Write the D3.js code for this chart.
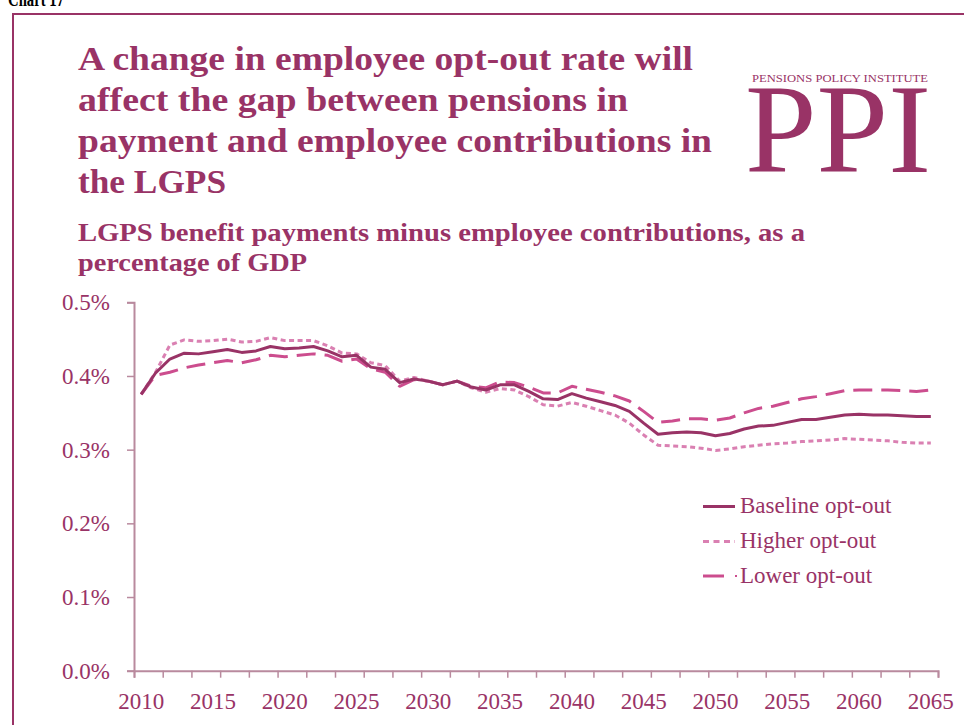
<!DOCTYPE html>
<html>
<head>
<meta charset="utf-8">
<script src="https://cdn.jsdelivr.net/npm/d3@7"></script>
<style>
  html, body { margin: 0; padding: 0; background: #fff; }
  svg { display: block; }
</style>
</head>
<body>
<svg id="chart" width="964" height="725"></svg>
<script>
// ---------- DATA ----------
const years = [2010,2011,2012,2013,2014,2015,2016,2017,2018,2019,
  2020,2021,2022,2023,2024,2025,2026,2027,2028,2029,
  2030,2031,2032,2033,2034,2035,2036,2037,2038,2039,
  2040,2041,2042,2043,2044,2045,2046,2047,2048,2049,
  2050,2051,2052,2053,2054,2055,2056,2057,2058,2059,
  2060,2061,2062,2063,2064,2065];

const baselineOptOut = [0.375,0.404,0.423,0.431,0.430,0.433,0.436,0.432,0.434,0.440,
  0.437,0.438,0.440,0.434,0.426,0.428,0.412,0.409,0.391,0.396,
  0.393,0.388,0.393,0.385,0.381,0.388,0.388,0.379,0.369,0.368,
  0.376,0.370,0.365,0.360,0.352,0.336,0.321,0.323,0.324,0.323,
  0.319,0.322,0.328,0.332,0.333,0.337,0.341,0.341,0.344,0.347,
  0.348,0.347,0.347,0.346,0.345,0.345];

const higherOptOut = [0.375,0.405,0.442,0.449,0.447,0.448,0.450,0.446,0.447,0.452,
  0.448,0.448,0.448,0.441,0.431,0.430,0.418,0.414,0.393,0.398,
  0.393,0.388,0.393,0.384,0.378,0.383,0.381,0.372,0.361,0.359,
  0.364,0.359,0.353,0.347,0.336,0.320,0.306,0.305,0.304,0.302,
  0.299,0.301,0.304,0.306,0.308,0.309,0.311,0.312,0.313,0.315,
  0.314,0.313,0.312,0.310,0.309,0.309];

const lowerOptOut = [0.375,0.401,0.405,0.411,0.415,0.418,0.421,0.418,0.422,0.428,
  0.426,0.428,0.430,0.428,0.420,0.423,0.410,0.405,0.386,0.395,
  0.393,0.388,0.393,0.386,0.384,0.392,0.391,0.385,0.377,0.377,
  0.386,0.382,0.378,0.373,0.366,0.352,0.337,0.339,0.342,0.342,
  0.340,0.343,0.350,0.356,0.359,0.364,0.369,0.372,0.376,0.380,
  0.381,0.381,0.381,0.380,0.379,0.381];

const seriesNames = ["Baseline opt-out", "Higher opt-out", "Lower opt-out"];
const yTickValues = [0, 0.1, 0.2, 0.3, 0.4, 0.5];
const xLabelYears = [2010,2015,2020,2025,2030,2035,2040,2045,2050,2055,2060,2065];

const titleLines = ["A change in employee opt-out rate will",
  "affect the gap between pensions in",
  "payment and employee contributions in",
  "the LGPS"];
const subtitleLines = ["LGPS benefit payments minus employee contributions, as a",
  "percentage of GDP"];

// ---------- STYLE ----------
const PLUM = "#993366";
const AXIS = "#b98a9e";
const serif = "'Liberation Serif', 'Times New Roman', serif";

const svg = d3.select("#chart");

// frame
svg.append("rect").attr("x", 13).attr("y", 14).attr("width", 1000).attr("height", 800)
  .attr("fill", "none").attr("stroke", PLUM).attr("stroke-width", 2);

// "Chart 17" header (cut off at top)
svg.append("text").attr("x", 8).attr("y", 6).text("Chart 17")
  .attr("font-family", serif).attr("font-weight", "bold").attr("font-size", 22)
  .attr("fill", "#000").attr("textLength", 56).attr("lengthAdjust", "spacingAndGlyphs");

// title
const titleEnds = [693, 628, 712, 226];
const titleBase = [70, 111, 152, 193];
titleLines.forEach((t, i) => {
  svg.append("text").attr("x", 78).attr("y", titleBase[i]).text(t)
    .attr("font-family", serif).attr("font-weight", "bold").attr("font-size", 34)
    .attr("fill", PLUM)
    .attr("textLength", titleEnds[i] - 78).attr("lengthAdjust", "spacingAndGlyphs");
});
const subEnds = [805, 307];
const subBase = [241, 271];
subtitleLines.forEach((t, i) => {
  svg.append("text").attr("x", 78).attr("y", subBase[i]).text(t)
    .attr("font-family", serif).attr("font-weight", "bold").attr("font-size", 25)
    .attr("fill", PLUM)
    .attr("textLength", subEnds[i] - 78).attr("lengthAdjust", "spacingAndGlyphs");
});

// logo
svg.append("text").attr("x", 752).attr("y", 82).text("PENSIONS POLICY INSTITUTE")
  .attr("font-family", serif).attr("font-size", 10.5).attr("fill", PLUM)
  .attr("textLength", 176).attr("lengthAdjust", "spacingAndGlyphs");
svg.append("text").attr("x", 745).attr("y", 172).text("PPI")
  .attr("font-family", serif).attr("font-size", 128).attr("fill", PLUM)
  .attr("textLength", 186).attr("lengthAdjust", "spacingAndGlyphs");

// ---------- SCALES ----------
const x0 = 134, x1 = 938, yBottom = 670.7, yTop = 302.3;
const xBand = d3.scaleBand().domain(years).range([x0, x1]).padding(0);
const xEdge = d3.scaleLinear().domain([years[0], years[years.length - 1] + 1]).range([x0, x1]);
const y = d3.scaleLinear().domain([0, 0.5]).range([yBottom, yTop]);

// y axis
const yAxisG = svg.append("g").attr("transform", `translate(${x0},0)`)
  .call(d3.axisLeft(y).tickValues(yTickValues).tickSize(7).tickPadding(17)
    .tickFormat(d => d3.format(".1f")(d) + "%"));
yAxisG.select(".domain").attr("stroke", AXIS).attr("stroke-width", 2);
yAxisG.selectAll(".tick line").attr("stroke", AXIS).attr("stroke-width", 1.5);
yAxisG.selectAll(".tick text").attr("font-family", serif).attr("font-size", 23)
  .attr("fill", PLUM);

// x axis: tick marks at category boundaries every 2 years
const edgeTicks = years.filter((d, i) => i % 2 === 0).concat([years[years.length - 1] + 1]);
const xAxisG = svg.append("g").attr("transform", `translate(0,${yBottom})`)
  .call(d3.axisBottom(xEdge).tickValues(edgeTicks).tickSize(7).tickFormat(""));
xAxisG.select(".domain").attr("stroke", AXIS).attr("stroke-width", 2);
xAxisG.selectAll(".tick line").attr("stroke", AXIS).attr("stroke-width", 1.5);

// x labels centered on categories
const xLabG = svg.append("g").attr("transform", `translate(0,${yBottom})`)
  .call(d3.axisBottom(xBand).tickValues(xLabelYears).tickSize(0).tickPadding(0));
xLabG.select(".domain").remove();
xLabG.selectAll(".tick text").attr("font-family", serif).attr("font-size", 23)
  .attr("fill", PLUM).attr("y", 38.5).attr("dy", 0);

// ---------- LINES ----------
const cx = d => xBand(d) + xBand.bandwidth() / 2;
const series = [
  { name: seriesNames[0], values: baselineOptOut, color: "#993366", dash: null },
  { name: seriesNames[1], values: higherOptOut, color: "#da80b2", dash: "5,3.5" },
  { name: seriesNames[2], values: lowerOptOut, color: "#cc4d8e", dash: "19,9" }
];
const line = d3.line().x((d, i) => cx(years[i])).y(d => y(d));
// draw order: lower, higher, baseline on top
[series[2], series[1], series[0]].forEach(s => {
  svg.append("path").datum(s.values).attr("d", line)
    .attr("fill", "none").attr("stroke", s.color).attr("stroke-width", 3)
    .attr("stroke-linejoin", "round")
    .attr("stroke-dasharray", s.dash);
});

// ---------- LEGEND ----------
const legY = [506.5, 541.5, 576];
const legTextY = [513, 548, 582.5];
series.forEach((s, i) => {
  if (i === 2) {
    svg.append("line").attr("x1", 703).attr("x2", 724).attr("y1", legY[i]).attr("y2", legY[i])
      .attr("stroke", s.color).attr("stroke-width", 3);
    svg.append("line").attr("x1", 735).attr("x2", 737).attr("y1", legY[i]).attr("y2", legY[i])
      .attr("stroke", s.color).attr("stroke-width", 2);
  } else {
    svg.append("line").attr("x1", 703).attr("x2", 735).attr("y1", legY[i]).attr("y2", legY[i])
      .attr("stroke", s.color).attr("stroke-width", 3)
      .attr("stroke-dasharray", s.dash ? "6,4.5" : null);
  }
  svg.append("text").attr("x", 740).attr("y", legTextY[i]).text(s.name)
    .attr("font-family", serif).attr("font-size", 23).attr("fill", PLUM);
});
</script>
</body>
</html>
